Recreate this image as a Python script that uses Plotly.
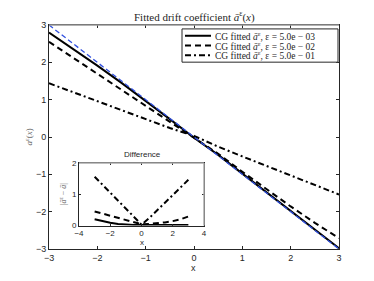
import plotly.graph_objects as go
import numpy as np

# ---- data ----
x_grid = [-3, -2.5, -2, -1.5, -1, -0.5, 0, 0.5, 1, 1.5, 2, 2.5, 3]
a_true = [3, 2.5, 2, 1.5, 1, 0.5, 0, -0.5, -1, -1.5, -2, -2.5, -3]
fit_eps_5e3 = [2.80, 2.36, 1.91, 1.45, 0.97, 0.48, -0.02, -0.48, -0.98, -1.48, -1.98, -2.48, -2.98]
fit_eps_5e2 = [2.55, 2.12, 1.69, 1.27, 0.83, 0.40, -0.04, -0.45, -0.93, -1.40, -1.86, -2.30, -2.71]
fit_eps_5e1 = [1.44, 1.20, 0.96, 0.72, 0.48, 0.24, 0.03, -0.26, -0.52, -0.78, -1.03, -1.29, -1.54]
eps_labels = ["5.0e − 03", "5.0e − 02", "5.0e − 01"]
main_xticks = [-3, -2, -1, 0, 1, 2, 3]
main_yticks = [-3, -2, -1, 0, 1, 2, 3]
inset_xticks = [-4, -2, 0, 2, 4]
inset_yticks = [0, 1, 2]

fits = [fit_eps_5e3, fit_eps_5e2, fit_eps_5e1]
dashes = ["solid", "6px,4px", "6px,3px,2px,3px"]
diffs = [list(np.abs(np.array(f) - np.array(a_true))) for f in fits]

OFF = 8  # page body margin
W, H = 374 - OFF, 281 - OFF
L, T = 49 - OFF, 20 - OFF
R = W - (339 - OFF)
B = H - (249 - OFF)
pw, ph = W - L - R, H - T - B
def px(xp): return (xp - OFF - L) / pw
def py(yp): return (H - B - (yp - OFF)) / ph

fig = go.Figure()
for f, d in zip(fits, dashes):
    fig.add_trace(go.Scatter(x=x_grid, y=f, mode="lines",
                             line=dict(color="black", width=2, dash=d),
                             xaxis="x", yaxis="y", showlegend=False))
fig.add_trace(go.Scatter(x=x_grid, y=a_true, mode="lines",
                         line=dict(color="#3050e0", width=1.3, dash="5px,3px"),
                         xaxis="x", yaxis="y", showlegend=False))
for df, d in zip(diffs, dashes):
    fig.add_trace(go.Scatter(x=x_grid, y=df, mode="lines",
                             line=dict(color="black", width=2, dash=d),
                             xaxis="x2", yaxis="y2", showlegend=False))

axcol = "#262626"
tickfont = dict(family="Liberation Sans", size=9, color=axcol)
common = dict(showgrid=False, zeroline=False, showline=True, linecolor=axcol,
              linewidth=1, ticks="inside", ticklen=3, tickcolor=axcol,
              mirror="ticks", tickfont=tickfont)
inset_common = {**common, "tickfont": dict(family="Liberation Sans", size=8, color=axcol),
                "ticklen": 2}

fig.update_layout(
    width=W, height=H,
    margin=dict(l=L, r=R, t=T, b=B),
    paper_bgcolor="white", plot_bgcolor="white",
    showlegend=False,
    xaxis=dict(range=[-3, 3], tickvals=main_xticks, **common),
    yaxis=dict(range=[-3, 3], tickvals=main_yticks, **common),
    xaxis2=dict(domain=[px(79), px(204)], anchor="y2", range=[-4, 4],
                tickvals=inset_xticks, **inset_common),
    yaxis2=dict(domain=[py(225), py(161)], anchor="x2", range=[0, 2],
                tickvals=inset_yticks, **inset_common),
)

serif = "Liberation Serif"
def A(xp, yp, text, font, **kw):
    d = dict(x=px(xp), y=py(yp), xref="paper", yref="paper", showarrow=False,
             text=text, font=font, yanchor="middle", xanchor="center")
    d.update(kw)
    return d

ann = []
ann.append(A(194, 11, "Fitted drift coefficient <i>ā</i><sup>ε</sup>(<i>x</i>)",
             dict(family=serif, size=11, color=axcol)))
ann.append(A(29, 135, "<i>a</i><sup>ε</sup>(<i>x</i>)",
             dict(family=serif, size=9, color="#666666"), textangle=-90))
ann.append(A(193, 268, "x", dict(family="Liberation Sans", size=9, color=axcol)))
ann.append(A(142, 152, "Difference", dict(family="Liberation Sans", size=8, color=axcol)))
ann.append(A(63, 193, "|<i>ā</i><sup>ε</sup> − <i>ā</i>|",
             dict(family=serif, size=8, color="#666666"), textangle=-90))
ann.append(A(142, 242, "x", dict(family="Liberation Sans", size=8, color=axcol)))

shapes = []
# lighter top / right borders, as in the reference
shapes.append(dict(type="line", xref="x domain", yref="y domain", x0=0, x1=1, y0=1, y1=1,
                   line=dict(color="#999999", width=1.5), layer="above"))
shapes.append(dict(type="line", xref="x2 domain", yref="y2 domain", x0=0, x1=1, y0=1, y1=1,
                   line=dict(color="#aaaaaa", width=1.5), layer="above"))
shapes.append(dict(type="line", xref="x2 domain", yref="y2 domain", x0=1, x1=1, y0=0, y1=1,
                   line=dict(color="#aaaaaa", width=1.5), layer="above"))
# legend box
shapes.append(dict(type="rect", xref="paper", yref="paper",
                   x0=px(182), x1=px(338), y0=py(58), y1=py(24),
                   line=dict(color=axcol, width=1), fillcolor="white", layer="above"))
rows = [31, 41, 51]
for r, d, lab in zip(rows, dashes, eps_labels):
    shapes.append(dict(type="line", xref="paper", yref="paper",
                       x0=px(185), x1=px(211), y0=py(r), y1=py(r),
                       line=dict(color="black", width=2, dash=d), layer="above"))
    ann.append(A(213, r, "CG fitted <i>ā</i><sup>ε</sup>, ε = " + lab,
                 dict(family=serif, size=9.5, color=axcol), xanchor="left"))

fig.update_layout(annotations=ann, shapes=shapes)
fig.write_html("out.html")
